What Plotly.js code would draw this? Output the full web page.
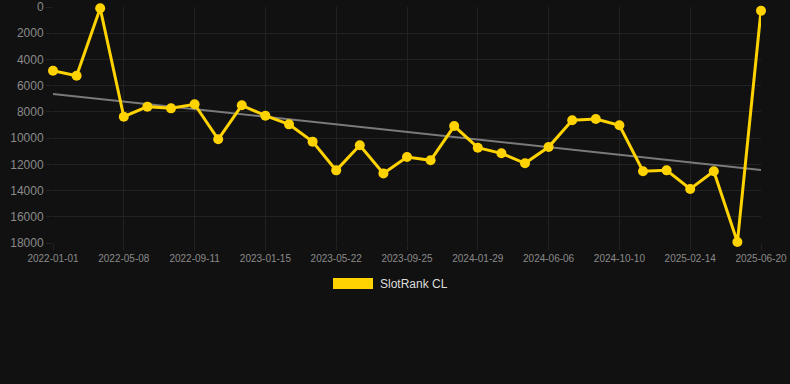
<!DOCTYPE html>
<html>
<head>
<meta charset="utf-8">
<script src="https://cdn.plot.ly/plotly-3.0.1.min.js"></script>
<style>
html,body{margin:0;padding:0;background:#111111;}
#chart{width:790px;height:384px;}
</style>
</head>
<body>
<div id="chart"></div>
<script>
const dates = ["2022-01-01","2022-02-12","2022-03-26","2022-05-08","2022-06-19","2022-07-31","2022-09-11","2022-10-23","2022-12-04","2023-01-15","2023-02-26","2023-04-09","2023-05-22","2023-07-03","2023-08-14","2023-09-25","2023-11-06","2023-12-18","2024-01-29","2024-03-12","2024-04-24","2024-06-06","2024-07-18","2024-08-29","2024-10-10","2024-11-21","2025-01-02","2025-02-14","2025-03-28","2025-05-09","2025-06-20"];
const rankValues = [4860,5240,100,8370,7600,7730,7420,10090,7500,8290,8950,10270,12460,10550,12690,11440,11690,9080,10730,11160,11920,10680,8640,8540,9020,12530,12460,13880,12530,17930,280];
const trendDates = ["2022-01-01","2025-06-20"];
const trendValues = [6640,12430];
const tickLabels = ["2022-01-01","2022-05-08","2022-09-11","2023-01-15","2023-05-22","2023-09-25","2024-01-29","2024-06-06","2024-10-10","2025-02-14","2025-06-20"];
const yTicks = [0,2000,4000,6000,8000,10000,12000,14000,16000,18000];
const yTickLabels = ["0","2000","4000","6000","8000","10000","12000","14000","16000","18000"];
const seriesName = "SlotRank CL";

const gold = "#FFD300";
const traces = [
  {
    x: trendDates, y: trendValues, type: "scatter", mode: "lines",
    line: {color: "#7a7a7a", width: 2}, hoverinfo: "skip", showlegend: false
  },
  {
    x: dates, y: rankValues, type: "scatter", mode: "lines+markers", name: seriesName,
    line: {color: gold, width: 3},
    marker: {color: gold, size: 10},
    cliponaxis: false, showlegend: false
  }
];

const layout = {
  width: 790, height: 384,
  paper_bgcolor: "#111111", plot_bgcolor: "#111111",
  margin: {l: 53, r: 29, t: 7, b: 141},
  font: {family: "Liberation Sans, Arial, sans-serif", color: "#8a8a8a"},
  showlegend: false,
  xaxis: {
    type: "category", categoryorder: "array", categoryarray: dates,
    range: [0, dates.length - 1],
    tickmode: "array", tickvals: tickLabels, ticktext: tickLabels,
    tickangle: 0,
    tickfont: {size: 10, color: "#8a8a8a"},
    showgrid: true, gridcolor: "#222222", gridwidth: 1,
    zeroline: false, showline: false,
    ticks: "outside", ticklen: 6, tickcolor: "#222222"
  },
  yaxis: {
    range: [18000, 0], autorange: false,
    tickmode: "array", tickvals: yTicks, ticktext: yTickLabels,
    tickfont: {size: 12, color: "#8a8a8a"},
    showgrid: true, gridcolor: "#222222", gridwidth: 1,
    zeroline: false, showline: false,
    ticks: "outside", ticklen: 6, tickcolor: "#222222"
  },
  shapes: [
    {type: "rect", xref: "paper", yref: "paper",
     x0: (333-53)/708, x1: (373-53)/708, y0: -(278-243)/236, y1: -(289-243)/236,
     fillcolor: gold, line: {width: 0}}
  ],
  annotations: [
    {xref: "paper", yref: "paper", x: (378-53)/708, y: -(284-243)/236,
     xanchor: "left", yanchor: "middle", showarrow: false,
     text: seriesName, font: {size: 12, color: "#dddddd"}}
  ]
};

Plotly.newPlot("chart", traces, layout, {displayModeBar: false, staticPlot: true});
</script>
</body>
</html>
